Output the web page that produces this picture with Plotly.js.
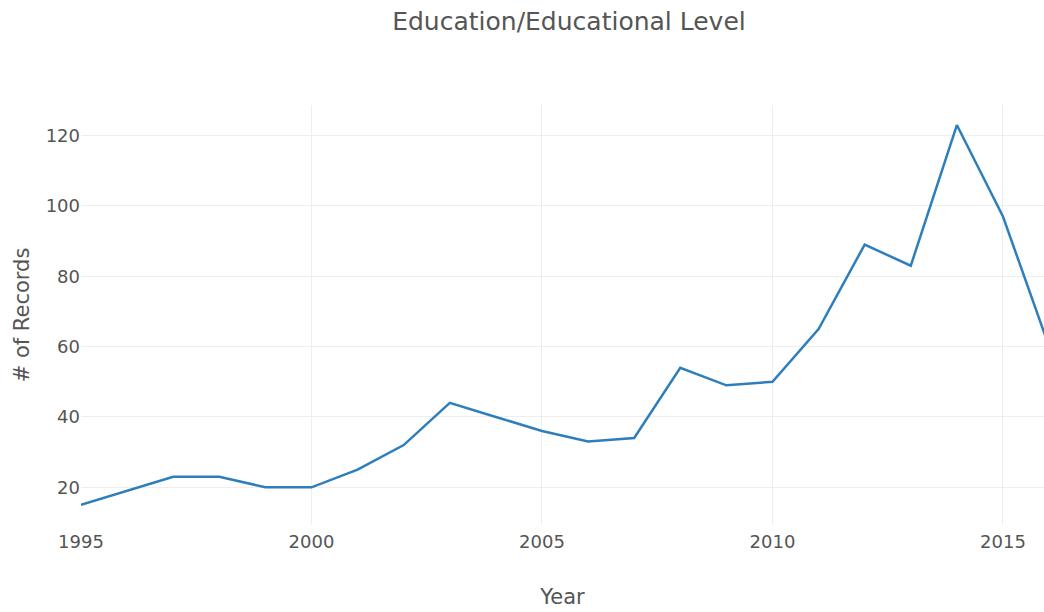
<!DOCTYPE html>
<html>
<head>
<meta charset="utf-8">
<script src="https://cdn.plot.ly/plotly-3.0.1.min.js"></script>
<style>html,body{margin:0;padding:0;background:#fff;}#chart{width:1044px;height:612px;}</style>
</head>
<body>
<div id="chart"></div>
<script>
const years = [1995,1996,1997,1998,1999,2000,2001,2002,2003,2004,2005,2006,2007,2008,2009,2010,2011,2012,2013,2014,2015,2016];
const records = [15,19,23,23,20,20,25,32,44,40,36,33,34,54,49,50,65,89,83,123,97,60];
const xTicks = [1995,2000,2005,2010,2015];
const yTicks = [20,40,60,80,100,120];

const font = "DejaVu Sans, Verdana, sans-serif";
Plotly.newPlot('chart', [{
  x: years, y: records, type: 'scatter', mode: 'lines',
  line: {color: '#2e7ebc', width: 2.5}
}], {
  width: 1044, height: 612,
  margin: {l: 81, r: 0, t: 105, b: 87},
  paper_bgcolor: '#fff', plot_bgcolor: '#fff',
  font: {family: font, color: '#555'},
  title: {text: 'Education/Educational Level', font: {family: font, size: 25, color: '#555'}, x: 0.545, xanchor: 'center', y: 0.965, yanchor: 'middle'},
  xaxis: {range: [1995, 2015.89], tickvals: xTicks, ticktext: xTicks.map(String), showgrid: true, gridcolor: '#eee', zeroline: false, showline: false,
    tickfont: {size: 18, color: '#555'}, ticks: '', ticklabelstandoff: 4, title: {text: 'Year', font: {size: 21, color: '#555'}, standoff: 38}},
  yaxis: {range: [9.28, 128.7], tickvals: yTicks, ticktext: yTicks.map(String), showgrid: true, gridcolor: '#eee', zeroline: false, showline: false,
    tickfont: {size: 18, color: '#555'}, ticks: '', title: {text: '# of Records', font: {size: 21, color: '#555'}, standoff: 10}},
  showlegend: false
}, {displayModeBar: false, staticPlot: true});
</script>
</body>
</html>
